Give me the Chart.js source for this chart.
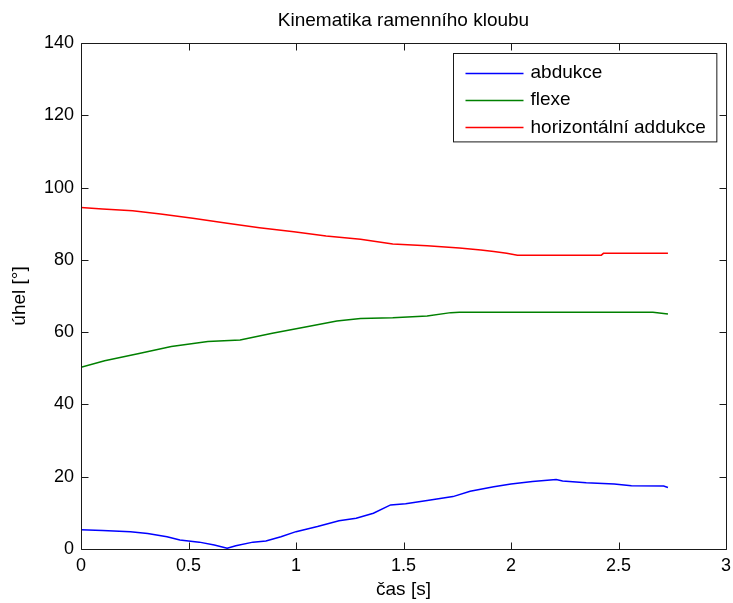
<!DOCTYPE html>
<html>
<head>
<meta charset="utf-8">
<script src="https://cdn.jsdelivr.net/npm/chart.js@4/dist/chart.umd.min.js"></script>
<style>
  html, body { margin: 0; padding: 0; background: #fff; }
  #wrap { width: 733px; height: 603px; }
</style>
</head>
<body>
<div id="wrap"><canvas id="c" width="733" height="603"></canvas></div>
<script>
// ---- data ----
const chartTitle = 'Kinematika ramenního kloubu';
const xLabel = 'čas [s]';
const yLabel = 'úhel [°]';
const seriesNames = ['abdukce', 'flexe', 'horizontální addukce'];
const seriesColors = ['#0000ff', '#008000', '#ff0000'];

const xTicks = [0, 0.5, 1, 1.5, 2, 2.5, 3];
const xTickLabels = ['0', '0.5', '1', '1.5', '2', '2.5', '3'];
const yTicks = [0, 20, 40, 60, 80, 100, 120, 140];
const yTickLabels = ['0', '20', '40', '60', '80', '100', '120', '140'];

const timeAbdukce = [0, 0.10, 0.23, 0.31, 0.40, 0.46, 0.55, 0.62, 0.68, 0.72, 0.80, 0.86, 0.93, 1.00, 1.10, 1.20, 1.28, 1.36, 1.44, 1.51, 1.61, 1.73, 1.81, 1.92, 2.00, 2.10, 2.21, 2.24, 2.35, 2.48, 2.56, 2.71, 2.73];
const abdukce     = [5.3, 5.1, 4.8, 4.3, 3.4, 2.5, 1.9, 1.1, 0.2, 0.9, 1.9, 2.2, 3.4, 4.8, 6.2, 7.8, 8.5, 9.9, 12.2, 12.5, 13.4, 14.5, 16.0, 17.2, 18.0, 18.7, 19.2, 18.8, 18.3, 18.0, 17.5, 17.4, 17.0];

const timeFlexe = [0, 0.11, 0.27, 0.42, 0.59, 0.74, 0.89, 1.05, 1.19, 1.30, 1.45, 1.61, 1.72, 1.76, 2.66, 2.73];
const flexe     = [50.3, 52.1, 54.1, 56.0, 57.4, 57.8, 59.7, 61.5, 63.1, 63.8, 64.0, 64.5, 65.4, 65.5, 65.5, 65.0];

const timeHorizontal = [0, 0.10, 0.24, 0.37, 0.52, 0.68, 0.83, 0.99, 1.14, 1.30, 1.45, 1.61, 1.76, 1.86, 1.92, 1.98, 2.03, 2.42, 2.43, 2.73];
const horizontalniAddukce = [94.5, 94.1, 93.6, 92.7, 91.5, 90.1, 88.9, 87.8, 86.6, 85.7, 84.4, 83.9, 83.3, 82.7, 82.3, 81.8, 81.3, 81.3, 81.8, 81.8];

// ---- build ----
const FONT = '"Liberation Sans", Arial, Helvetica, sans-serif';
function pts(xs, ys) { return xs.map((x, i) => ({ x: x, y: ys[i] })); }

const seriesData = [pts(timeAbdukce, abdukce), pts(timeFlexe, flexe), pts(timeHorizontal, horizontalniAddukce)];

const datasets = seriesNames.map((name, i) => ({
  label: name,
  data: seriesData[i],
  borderColor: seriesColors[i],
  backgroundColor: seriesColors[i],
  borderWidth: 1.5,
  pointRadius: 0,
  tension: 0,
  fill: false
}));

const frame = {
  id: 'frame',
  afterDraw(chart) {
    const { ctx, chartArea: a, scales } = chart;
    const xs = scales.x, ys = scales.y;
    const TL = 7;
    ctx.save();
    ctx.strokeStyle = '#1a1a1a';
    ctx.lineWidth = 1;
    ctx.beginPath();
    const L = Math.round(a.left) + 0.5, R = Math.round(a.right) + 0.5;
    const T = Math.round(a.top) + 0.5, B = Math.round(a.bottom) + 0.5;
    ctx.rect(L, T, R - L, B - T);
    xTicks.forEach(v => {
      const px = Math.round(xs.getPixelForValue(v)) + 0.5;
      ctx.moveTo(px, B); ctx.lineTo(px, B - TL);
      ctx.moveTo(px, T); ctx.lineTo(px, T + TL);
    });
    yTicks.forEach(v => {
      const py = Math.round(ys.getPixelForValue(v)) + 0.5;
      ctx.moveTo(L, py); ctx.lineTo(L + TL, py);
      ctx.moveTo(R, py); ctx.lineTo(R - TL, py);
    });
    ctx.stroke();

    // legend inside the axes (top right)
    const fs = 19;
    ctx.font = fs + 'px ' + FONT;
    let maxW = 0;
    chart.data.datasets.forEach(d => { maxW = Math.max(maxW, ctx.measureText(d.label).width); });
    const lineLen = 58, padL = 12, gap = 7, padR = 11;
    const boxW = padL + lineLen + gap + maxW + padR;
    const rowH = 27.4, padT = 19, padB = 14.6;
    const n = chart.data.datasets.length;
    const boxH = padT + rowH * (n - 1) + padB;
    const bx = Math.round(a.right - 10 - boxW) + 0.5;
    const by = Math.round(a.top + 10) + 0.5;
    ctx.fillStyle = '#fff';
    ctx.fillRect(bx, by, boxW, boxH);
    ctx.strokeStyle = '#1a1a1a';
    ctx.strokeRect(bx, by, boxW, boxH);
    ctx.textBaseline = 'middle';
    ctx.textAlign = 'left';
    chart.data.datasets.forEach((d, i) => {
      const ry = by + padT + i * rowH;
      ctx.strokeStyle = d.borderColor;
      ctx.lineWidth = 1.5;
      ctx.beginPath();
      ctx.moveTo(bx + padL, Math.round(ry) + 0.5);
      ctx.lineTo(bx + padL + lineLen, Math.round(ry) + 0.5);
      ctx.stroke();
      ctx.fillStyle = '#000';
      ctx.fillText(d.label, bx + padL + lineLen + gap, ry);
    });
    ctx.restore();
  }
};

new Chart(document.getElementById('c'), {
  type: 'line',
  data: { datasets: datasets },
  options: {
    responsive: false,
    animation: false,
    devicePixelRatio: 1,
    layout: { padding: { left: 0, right: 7, top: 0, bottom: 0 } },
    plugins: {
      legend: { display: false },
      tooltip: { enabled: false },
      title: {
        display: true,
        text: chartTitle,
        fullSize: false,
        color: '#000',
        font: { family: FONT, size: 19, weight: 'normal' },
        padding: { top: 9.6, bottom: 10.6 }
      }
    },
    scales: {
      x: {
        type: 'linear',
        min: 0, max: 3,
        afterBuildTicks(scale) { scale.ticks = xTicks.map(v => ({ value: v })); },
        afterFit(scale) { scale.height = 54; scale.paddingLeft = 0; scale.paddingRight = 0; },
        grid: { display: false, drawTicks: false },
        border: { display: false },
        ticks: {
          color: '#000', padding: 6,
          font: { family: FONT, size: 18 },
          maxRotation: 0, autoSkip: false,
          callback: (v) => { const i = xTicks.indexOf(v); return i >= 0 ? xTickLabels[i] : ''; }
        },
        title: {
          display: true, text: xLabel, color: '#000',
          font: { family: FONT, size: 19 },
          padding: { top: 0, bottom: 1.5 }
        }
      },
      y: {
        type: 'linear',
        min: 0, max: 140,
        afterBuildTicks(scale) { scale.ticks = yTicks.map(v => ({ value: v })); },
        afterFit(scale) { scale.width = 81; scale.paddingTop = 0; scale.paddingBottom = 0; },
        grid: { display: false, drawTicks: false },
        border: { display: false },
        ticks: {
          color: '#000', padding: 7,
          font: { family: FONT, size: 18 },
          autoSkip: false,
          callback: (v) => { const i = yTicks.indexOf(v); return i >= 0 ? yTickLabels[i] : ''; }
        },
        title: {
          display: true, text: yLabel, color: '#000',
          font: { family: FONT, size: 19 },
          padding: { top: 8.5, bottom: 0 }
        }
      }
    }
  },
  plugins: [frame]
});
</script>
</body>
</html>
